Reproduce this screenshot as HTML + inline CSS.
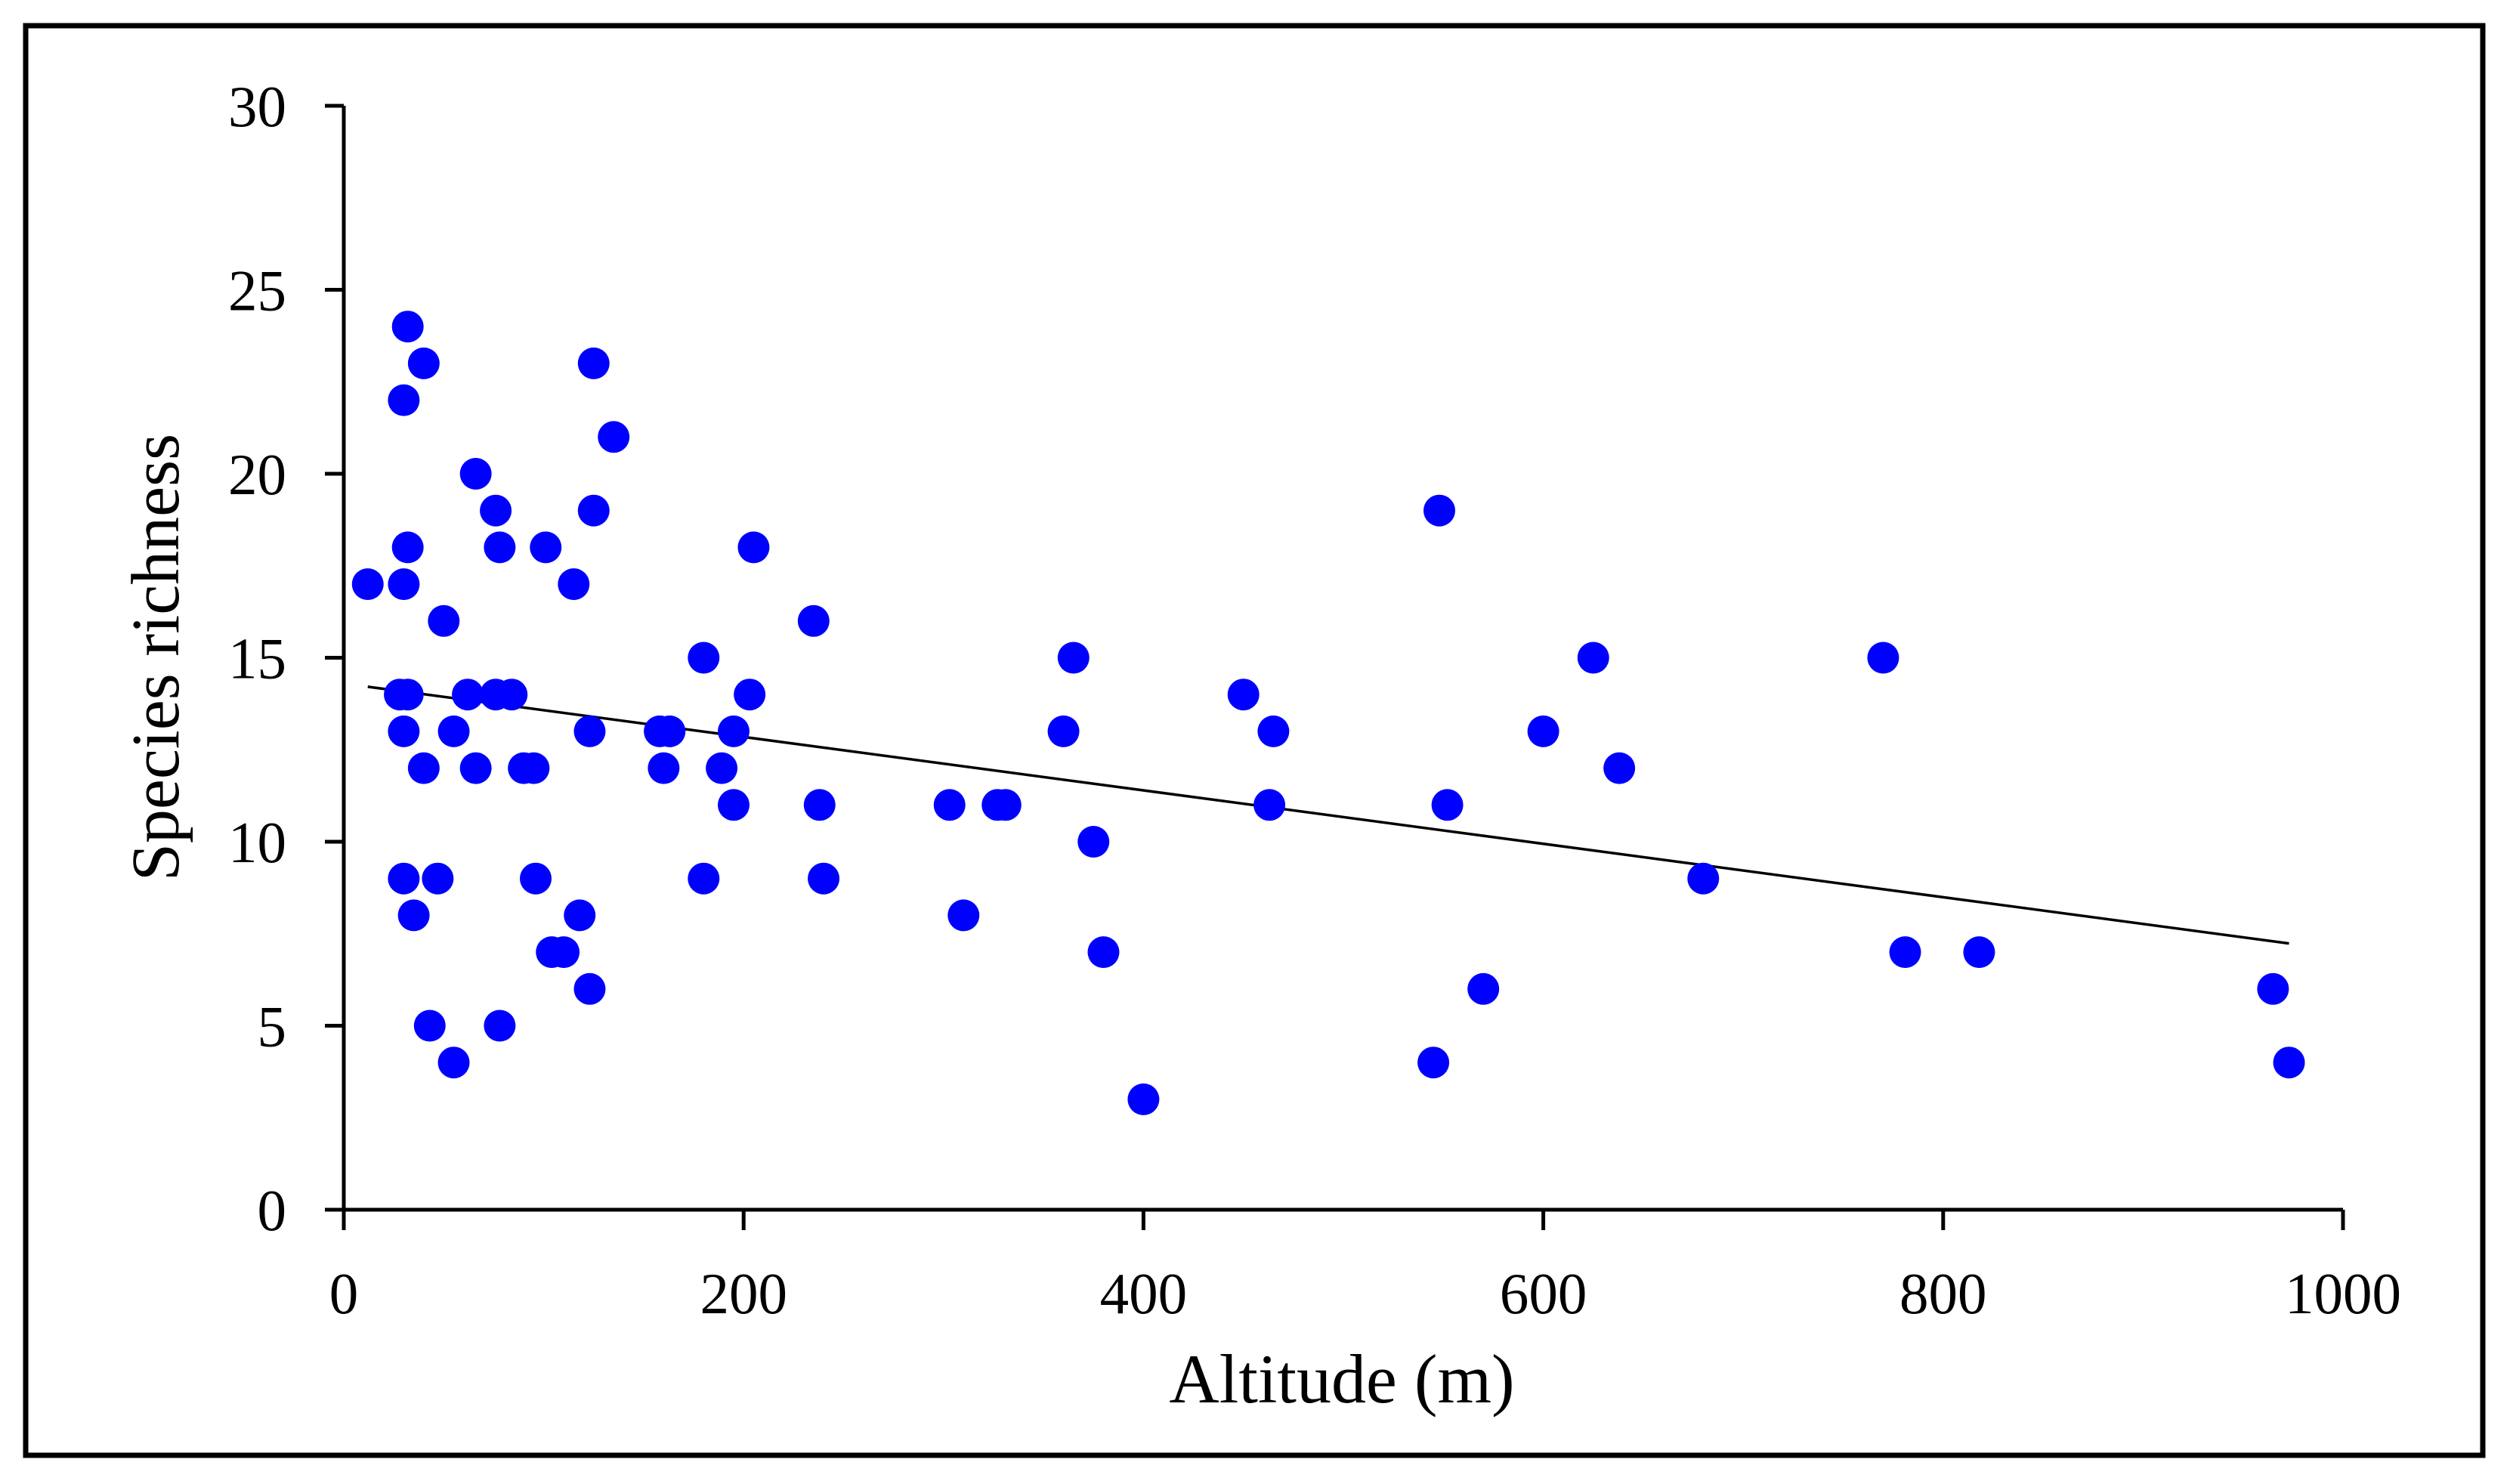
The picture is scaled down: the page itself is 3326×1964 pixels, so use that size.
<!DOCTYPE html>
<html><head><meta charset="utf-8"><style>
html,body{margin:0;padding:0;background:#fff;}
svg{display:block;}
text{font-family:"Liberation Serif",serif;fill:#000;}
</style></head><body>
<svg id="chart" width="3326" height="1964" viewBox="0 0 3326 1964" xmlns="http://www.w3.org/2000/svg">
<rect x="34" y="34" width="3252" height="1892" fill="#fff" stroke="#000" stroke-width="7"/>
<g id="axes"></g>
<g id="trend"></g>
<g id="points"></g>
<text x="1776" y="1856" font-size="92" text-anchor="middle">Altitude (m)</text>
<text transform="translate(236,870) rotate(-90)" font-size="90" text-anchor="middle">Species richness</text>
</svg>
<script>
const altitude = [12,28,30,32,30,30,30,32,32,35,40,40,43,47,50,55,55,62,66,66,76,76,78,78,84,90,95,96,101,104,110,115,118,123,123,125,125,135,158,160,163,180,180,189,195,195,203,205,235,238,240,303,310,327,331,360,365,375,380,400,450,463,465,545,548,552,570,600,625,638,680,770,781,818,965,973];
const richness = [17,14,22,24,17,13,9,18,14,8,23,12,5,9,16,13,4,14,20,12,19,14,18,5,14,12,12,9,18,7,7,17,8,13,6,23,19,21,13,12,13,15,9,12,13,11,14,18,16,11,9,11,8,11,11,13,15,10,7,3,14,11,13,4,19,11,6,13,15,12,9,15,7,7,6,4];
const xTicks = [0,200,400,600,800,1000];
const yTicks = [0,5,10,15,20,25,30];
const trendIntercept = 14.3;
const trendSlope = -0.00726;
const trendRange = [12,973];

const NS='http://www.w3.org/2000/svg';
const X0=455,X1=3101,Y0=1601,Y1=140;
function sx(v){return X0+(v-0)/(1000-0)*(X1-X0);}
function sy(v){return Y0-(v-0)/(30-0)*(Y0-Y1);}
function mk(tag,attrs,parent){const e=document.createElementNS(NS,tag);for(const k in attrs)e.setAttribute(k,attrs[k]);parent.appendChild(e);return e;}
const axes=document.getElementById('axes');
let a=mk('line',{x1:X0,y1:Y1,x2:X0,y2:Y0,stroke:'#000','stroke-width':5},axes);


a=mk('line',{x1:X0,y1:Y0,x2:X1,y2:Y0,stroke:'#000','stroke-width':5},axes);


xTicks.forEach(t=>{
  const x=sx(t);
  const l=mk('line',{x1:x,y1:Y0,x2:x,y2:Y0+27,stroke:'#000','stroke-width':5},axes);
  
  
  const tx=mk('text',{x:x,y:Y0+137,'font-size':77,'text-anchor':'middle'},axes);
  tx.textContent=t;
  
  
});
yTicks.forEach(t=>{
  const y=sy(t);
  const l=mk('line',{x1:X0-25,y1:y,x2:X0,y2:y,stroke:'#000','stroke-width':5},axes);
  
  
  const tx=mk('text',{x:X0-76,y:y+27,'font-size':77,'text-anchor':'end'},axes);
  tx.textContent=t;
  
  
});
const tr=mk('line',{x1:sx(trendRange[0]),y1:sy(trendIntercept+trendSlope*trendRange[0]),x2:sx(trendRange[1]),y2:sy(trendIntercept+trendSlope*trendRange[1]),stroke:'#000','stroke-width':3.5},document.getElementById('trend'));


const pts=document.getElementById('points');
altitude.forEach((v,i)=>{
  const c=mk('circle',{cx:sx(v),cy:sy(richness[i]),r:21,fill:'#0000ff'},pts);
  
  
});
</script>
</body></html>
